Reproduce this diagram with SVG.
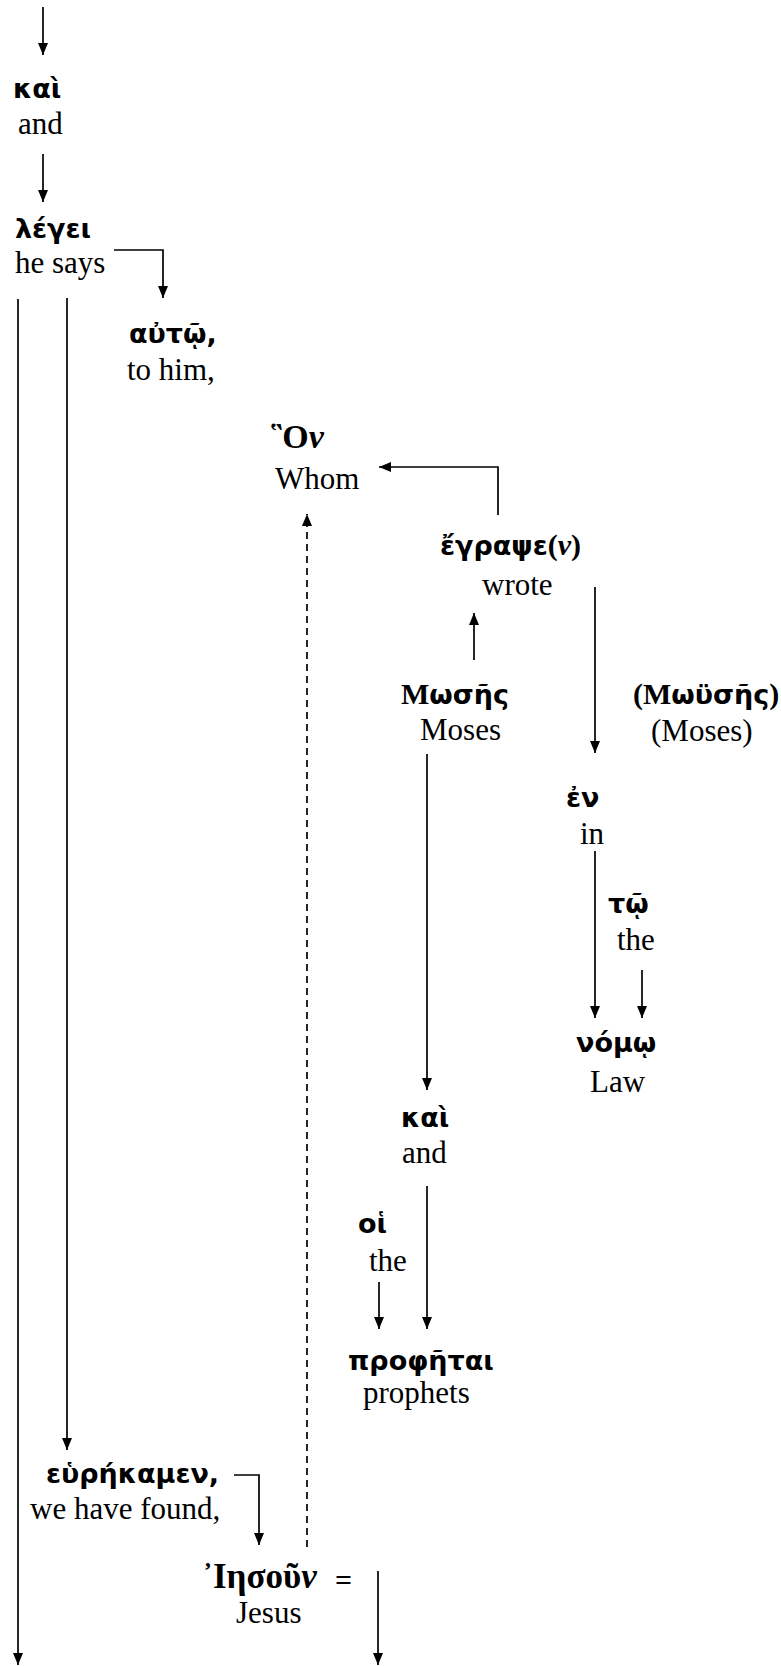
<svg xmlns="http://www.w3.org/2000/svg" width="781" height="1666" viewBox="0 0 781 1666">
<style>
.g{font-family:"DejaVu Sans","Noto Sans",sans-serif;font-weight:bold;font-size:27px;fill:#000}
.s{font-family:"Liberation Serif","Times New Roman",serif;font-weight:bold;font-size:30px;fill:#000}
.e{font-family:"Liberation Serif","Times New Roman",serif;font-size:31px;fill:#000}
.c{fill:none;stroke:#000;stroke-width:1.7}
.d{stroke-dasharray:7,5}
</style>
<defs>
<marker id="ah" markerUnits="userSpaceOnUse" markerWidth="13" markerHeight="12" refX="12" refY="5" orient="auto">
<path d="M0,0 L12,5 L0,10 z" fill="#000"/>
</marker>
</defs>
<rect width="781" height="1666" fill="#fff"/>
<g id="connectors">
<path class="c" d="M43,7 V55" marker-end="url(#ah)"/>
<path class="c" d="M43,154 V202" marker-end="url(#ah)"/>
<path class="c" d="M114,250 H163 V298" marker-end="url(#ah)"/>
<path class="c" d="M18,299 V1665" marker-end="url(#ah)"/>
<path class="c" d="M67,298 V1450" marker-end="url(#ah)"/>
<path class="c" d="M498,515 V467 H379" marker-end="url(#ah)"/>
<path class="c d" d="M307,1547 V514" marker-end="url(#ah)"/>
<path class="c" d="M474,660 V613" marker-end="url(#ah)"/>
<path class="c" d="M595,587 V753" marker-end="url(#ah)"/>
<path class="c" d="M595,851 V1018" marker-end="url(#ah)"/>
<path class="c" d="M642,970 V1018" marker-end="url(#ah)"/>
<path class="c" d="M427,754 V1090" marker-end="url(#ah)"/>
<path class="c" d="M427,1186 V1329" marker-end="url(#ah)"/>
<path class="c" d="M379,1282 V1329" marker-end="url(#ah)"/>
<path class="c" d="M234,1475 H259 V1545" marker-end="url(#ah)"/>
<path class="c" d="M378,1571 V1665" marker-end="url(#ah)"/>
</g>
<g id="n-kai1"><text class="g" x="13" y="98">καὶ</text><text class="e" x="18" y="134">and</text></g>
<g id="n-legei"><text class="g" x="15" y="238">λέγει</text><text class="e" x="15" y="273">he says</text></g>
<g id="n-auto"><text class="g" x="129" y="343">αὐτῷ,</text><text class="e" x="127" y="380">to him,</text></g>
<g id="n-hon"><text class="s" x="271" y="448" style="font-size:34px">῝Ο<tspan font-style="italic">ν</tspan></text><text class="e" x="275" y="489">Whom</text></g>
<g id="n-egrapsen"><text x="440" y="555"><tspan class="g">ἔγραψε</tspan><tspan class="s">(<tspan font-style="italic">ν</tspan>)</tspan></text><text class="e" x="482" y="595">wrote</text></g>
<g id="n-moses"><text x="401" y="704"><tspan class="s">Μ</tspan><tspan class="g">ωσῆς</tspan></text><text class="e" x="420" y="740">Moses</text></g>
<g id="n-moyses"><text x="633" y="704"><tspan class="s">(Μ</tspan><tspan class="g">ωϋσῆς</tspan><tspan class="s">)</tspan></text><text class="e" x="651" y="741">(Moses)</text></g>
<g id="n-en"><text class="g" x="566" y="807">ἐν</text><text class="e" x="580" y="844">in</text></g>
<g id="n-to"><text class="g" x="608" y="913">τῷ</text><text class="e" x="617" y="950">the</text></g>
<g id="n-nomo"><text class="g" x="576" y="1052">νόμῳ</text><text class="e" x="590" y="1092">Law</text></g>
<g id="n-kai2"><text class="g" x="401" y="1127">καὶ</text><text class="e" x="402" y="1163">and</text></g>
<g id="n-hoi"><text class="g" x="358" y="1233">οἱ</text><text class="e" x="369" y="1271">the</text></g>
<g id="n-prophetai"><text class="g" x="348" y="1370">προφῆται</text><text class="e" x="363" y="1403">prophets</text></g>
<g id="n-heurekamen"><text class="g" x="46" y="1483">εὑρήκαμεν,</text><text class="e" x="30" y="1519">we have found,</text></g>
<g id="n-iesoun"><text class="s" x="202" y="1588" style="font-size:35px">᾿<tspan x="213">Ιησοῦ</tspan><tspan font-style="italic">ν</tspan></text><text class="s" x="335" y="1590">=</text><text class="e" x="236" y="1623">Jesus</text></g>
</svg>
